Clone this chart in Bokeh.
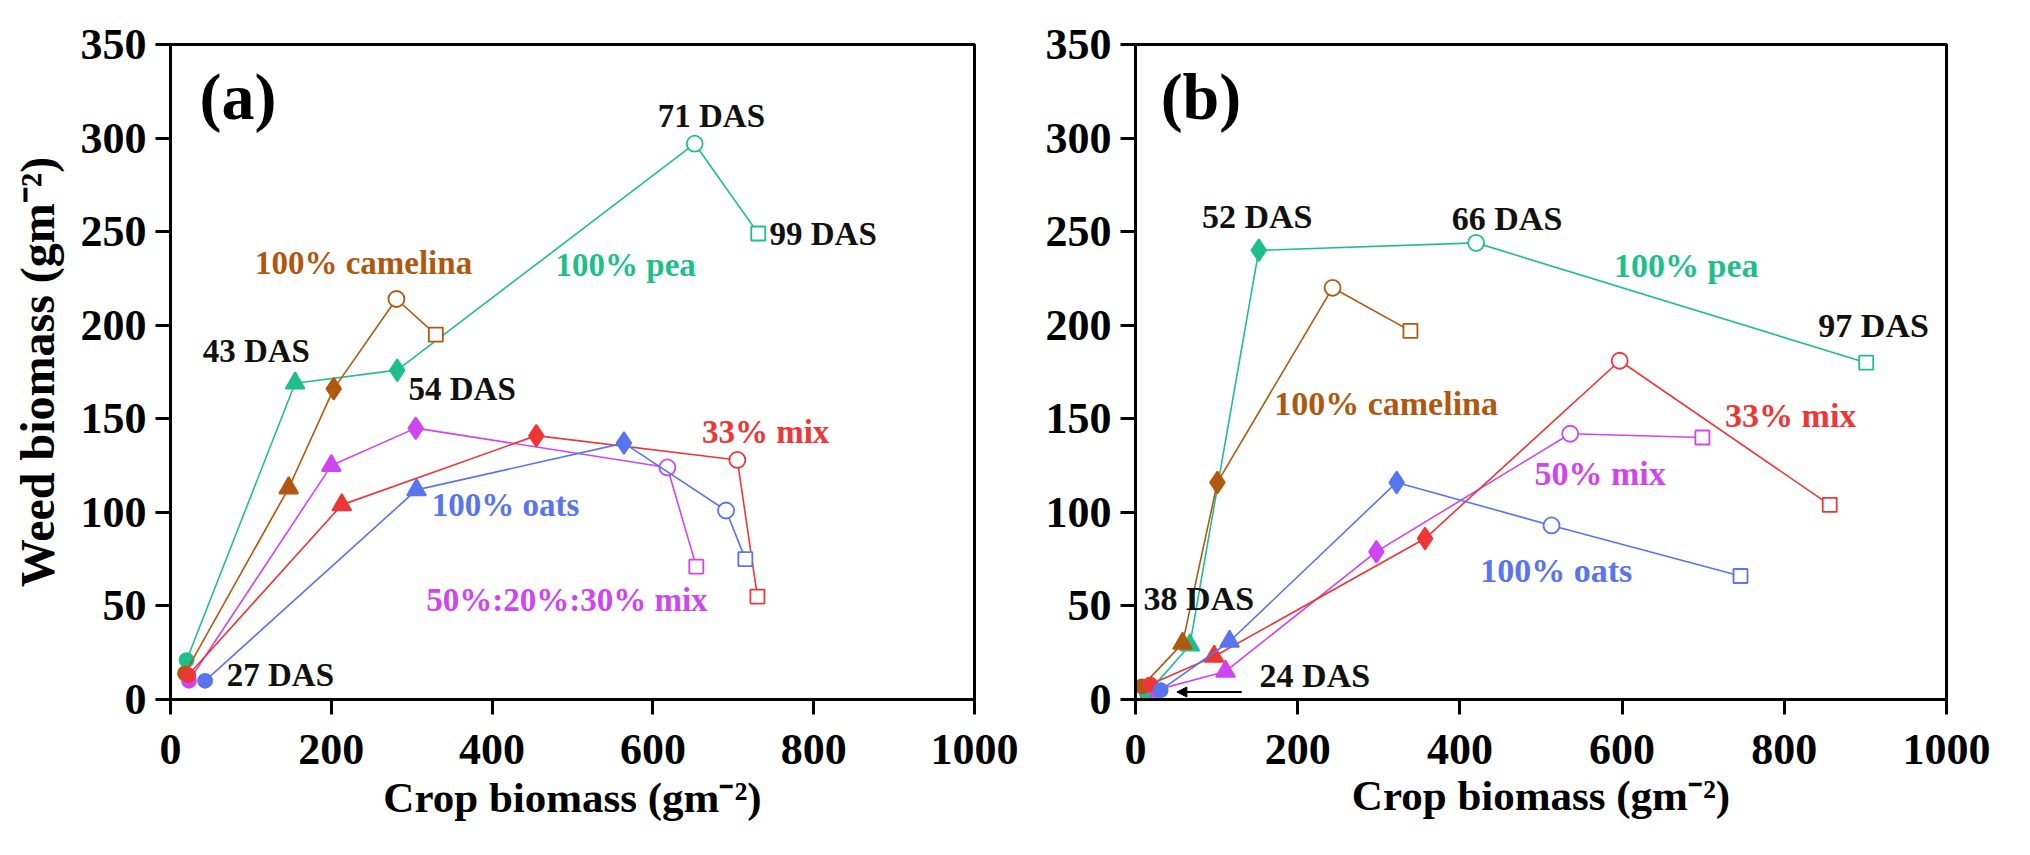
from bokeh.plotting import figure
from bokeh.layouts import row
from bokeh.models import Range1d, FixedTicker, Arrow, NormalHead
from bokeh.core.properties import value
from bokeh.embed import file_html
from bokeh.resources import INLINE

# ---------------- data ----------------
x_ticks = [0, 200, 400, 600, 800, 1000]
y_ticks = [0, 50, 100, 150, 200, 250, 300, 350]

# stages: first DAS (filled circle), 2nd (triangle), 3rd (diamond), 4th (open circle), 5th (open square)
# Panel (a)
a_pea_x = [20, 155, 282, 652, 731]
a_pea_y = [21, 169, 176, 297, 249]
a_cam_x = [18, 147, 203, 281, 330]
a_cam_y = [14, 113, 166, 214, 195]
a_mix50_x = [23, 200, 305, 618, 654]
a_mix50_y = [10, 125, 145, 124, 71]
a_mix33_x = [22, 213, 455, 705, 730]
a_mix33_y = [13, 104, 141, 128, 55]
a_oats_x = [43, 306, 564, 691, 715]
a_oats_y = [10, 112, 137, 101, 75]

# Panel (b)
b_pea_x = [14, 67, 152, 420, 901]
b_pea_y = [3, 29, 240, 244, 180]
b_cam_x = [8, 58, 101, 243, 339]
b_cam_y = [7, 30, 116, 220, 197]
b_mix50_x = [25, 111, 297, 536, 699]
b_mix50_y = [5, 15, 79, 142, 140]
b_mix33_x = [18, 97, 357, 597, 856]
b_mix33_y = [8, 23, 86, 181, 104]
b_oats_x = [31, 116, 322, 513, 746]
b_oats_y = [5, 31, 116, 93, 66]

# annotation texts
a_labels = ["71 DAS", "99 DAS", "100% camelina", "100% pea", "43 DAS", "54 DAS",
            "33% mix", "100% oats", "50%:20%:30% mix", "27 DAS"]
a_label_x = [606, 745, 105, 479, 40, 296, 661, 325, 318, 70]
a_label_y = [312, 249, 233, 232, 186, 166, 143, 104, 53, 13]

b_labels = ["52 DAS", "66 DAS", "100% pea", "97 DAS", "100% camelina", "33% mix",
            "50% mix", "100% oats", "38 DAS", "24 DAS"]
b_label_x = [82, 390, 590, 842, 171, 727, 492, 425, 10, 153]
b_label_y = [258, 257, 232, 200, 158, 152, 121, 69, 54, 13]

arrow_b_x = [131, 51]
arrow_b_y = [4, 4]

# ---------------- styles ----------------
GREEN = "#1FBF8C"
BROWN = "#B0580F"
MAGENTA = "#CF45F0"
RED = "#EE3636"
BLUE = "#5874EE"
BLACK = "#111111"
FONT = "Liberation Serif"

MARKERS = [("circle", 14, True), ("triangle", 19, True), ("diamond", 22, True),
           ("circle", 16, False), ("square", 14, False)]


def style_axes(p):
    p.xaxis.ticker = FixedTicker(ticks=x_ticks)
    p.yaxis.ticker = FixedTicker(ticks=y_ticks)
    for ax in (p.xaxis[0], p.yaxis[0]):
        ax.axis_line_width = 3
        ax.axis_line_color = "black"
        ax.major_tick_line_width = 3
        ax.major_tick_line_color = "black"
        ax.major_tick_out = 15
        ax.major_tick_in = 0
        ax.minor_tick_line_color = None
        ax.major_label_text_font = FONT
        ax.major_label_text_font_style = "bold"
        ax.major_label_text_font_size = "44px"
        ax.major_label_text_color = "black"
        ax.axis_label_text_font = FONT
        ax.axis_label_text_font_style = "bold"
        ax.axis_label_text_color = "black"
    p.yaxis.major_label_standoff = 9
    p.xaxis.major_label_standoff = 20
    p.xgrid.visible = False
    p.ygrid.visible = False
    p.outline_line_color = "black"
    p.outline_line_width = 3
    p.outline_line_alpha = 1.0
    p.background_fill_color = "white"
    p.border_fill_color = "white"


def draw_series(p, xs, ys, color):
    p.line(xs, ys, line_color=color, line_width=1.6)
    for i, (mk, sz, filled) in enumerate(MARKERS):
        p.scatter(xs[i:i + 1], ys[i:i + 1], marker=mk, size=sz,
                  fill_color=color if filled else "white",
                  line_color=color, line_width=1.8)


def draw_labels(p, texts, xs, ys, colors, size):
    for t, x, y, c in zip(texts, xs, ys, colors):
        p.text(x=[x], y=[y], text=[t], text_font=value(FONT), text_font_style="bold",
               text_font_size=size, text_color=c, text_align="left",
               text_baseline="middle")


# ---------------- panel (a) ----------------
pa = figure(width=1040, height=839, output_backend="svg", toolbar_location=None,
            x_range=Range1d(0, 1000), y_range=Range1d(0, 350),
            min_border_left=170, min_border_right=66, min_border_top=44,
            min_border_bottom=140)
style_axes(pa)
pa.xaxis.axis_label = "Crop biomass (gm\u207b\u00b2)"
pa.xaxis.axis_label_text_font_size = "43px"
pa.xaxis.axis_label_standoff = 7
pa.yaxis.axis_label = "Weed biomass (gm\u207b\u00b2)"
pa.yaxis.axis_label_text_font_size = "48px"
pa.yaxis.axis_label_standoff = 14

draw_series(pa, a_pea_x, a_pea_y, GREEN)
draw_series(pa, a_cam_x, a_cam_y, BROWN)
draw_series(pa, a_mix50_x, a_mix50_y, MAGENTA)
draw_series(pa, a_mix33_x, a_mix33_y, RED)
draw_series(pa, a_oats_x, a_oats_y, BLUE)

a_colors = [BLACK, BLACK, BROWN, GREEN, BLACK, BLACK, RED, BLUE, MAGENTA, BLACK]
draw_labels(pa, a_labels, a_label_x, a_label_y, a_colors, "33px")
pa.text(x=[36], y=[322], text=["(a)"], text_font=value(FONT), text_font_style="bold",
        text_font_size="66px", text_color="black", text_align="left",
        text_baseline="middle")

# ---------------- panel (b) ----------------
pb = figure(width=974, height=839, output_backend="svg", toolbar_location=None,
            x_range=Range1d(0, 1000), y_range=Range1d(0, 350),
            min_border_left=95, min_border_right=68, min_border_top=42,
            min_border_bottom=134)
style_axes(pb)
pb.xaxis.axis_label = "Crop biomass (gm\u207b\u00b2)"
pb.xaxis.axis_label_text_font_size = "43px"
pb.xaxis.axis_label_standoff = 5

draw_series(pb, b_pea_x, b_pea_y, GREEN)
draw_series(pb, b_cam_x, b_cam_y, BROWN)
draw_series(pb, b_mix50_x, b_mix50_y, MAGENTA)
draw_series(pb, b_mix33_x, b_mix33_y, RED)
draw_series(pb, b_oats_x, b_oats_y, BLUE)

b_colors = [BLACK, BLACK, GREEN, BLACK, BROWN, RED, MAGENTA, BLUE, BLACK, BLACK]
draw_labels(pb, b_labels, b_label_x, b_label_y, b_colors, "34px")
pb.text(x=[31], y=[322], text=["(b)"], text_font=value(FONT), text_font_style="bold",
        text_font_size="66px", text_color="black", text_align="left",
        text_baseline="middle")
pb.add_layout(Arrow(end=NormalHead(size=10, fill_color="black", line_color="black"),
                    x_start=arrow_b_x[0], y_start=arrow_b_y[0],
                    x_end=arrow_b_x[1], y_end=arrow_b_y[1],
                    line_color="black", line_width=2))

layout = row(pa, pb)
open("out.html", "w").write(file_html(layout, INLINE))
